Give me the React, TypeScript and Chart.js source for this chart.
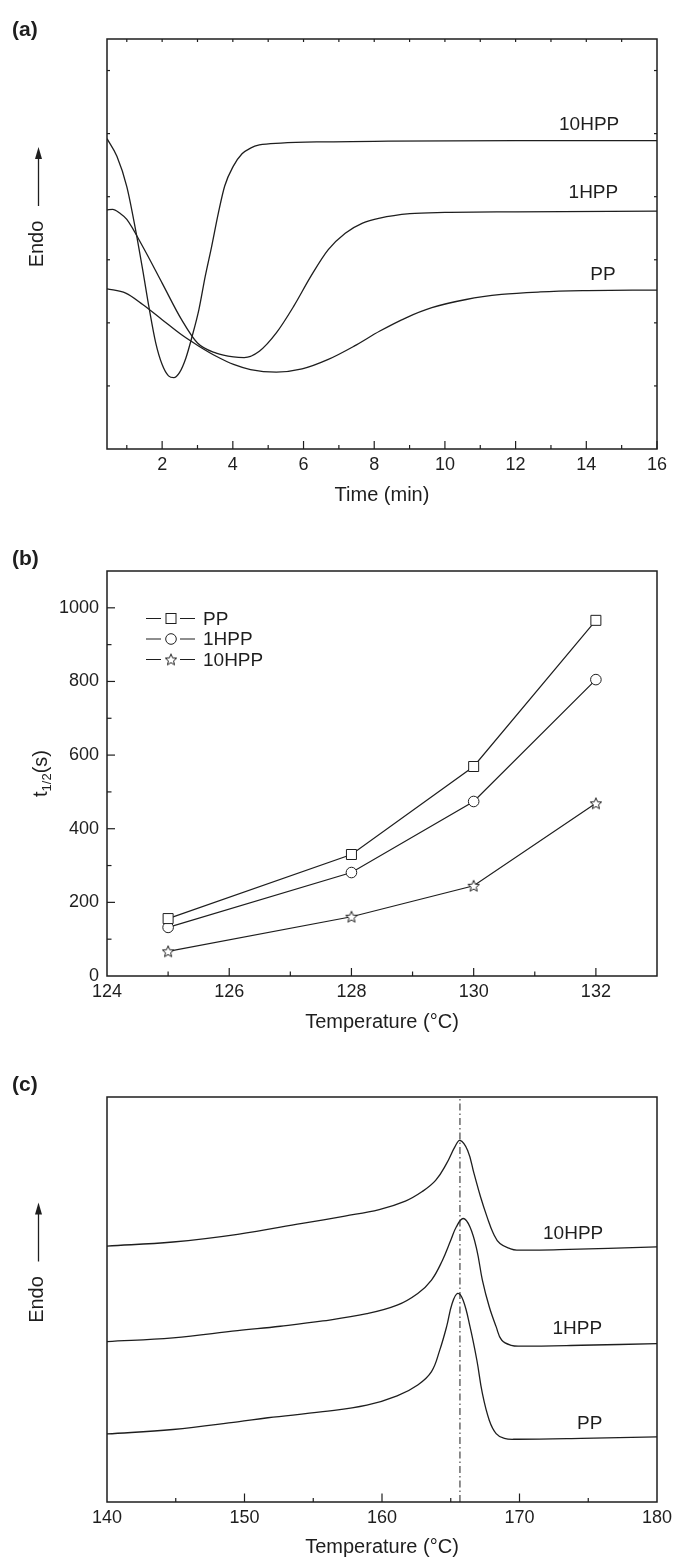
import React, { useEffect, useRef } from 'react';
import { Chart, registerables } from 'chart.js';

Chart.register(...registerables);

const FONT = '"Liberation Sans", Arial, Helvetica, sans-serif';
const INK = '#1e1e1e';
const PAGE_W = 675;
const PLOT_LEFT = 107;
const PLOT_RIGHT = 657;

// ---------------- Panel (a) ----------------
const aXMin = 0.44;
const aXMax = 16;
const aYMin = 0;
const aYMax = 6.5;
const aXTickValues = [2, 4, 6, 8, 10, 12, 14, 16];
const aXMinorValues = [1, 3, 5, 7, 9, 11, 13, 15];
const aTopTickValues = [1, 2, 3, 4, 5, 6, 7, 8, 9, 10, 11, 12, 13, 14, 15];
const aSideTickValues = [1, 2, 3, 4, 5, 6];

const a10HPPTime = [0.44, 0.72, 1.0, 1.23, 1.45, 1.63, 1.82, 2.0, 2.18, 2.33, 2.49, 2.67, 2.85, 3.04, 3.22, 3.4, 3.59, 3.77, 4.01, 4.26, 4.5, 4.75, 5.36, 6.58, 8.4, 12, 16];
const a10HPPHeat = [4.92, 4.64, 4.16, 3.53, 2.84, 2.24, 1.68, 1.34, 1.16, 1.13, 1.21, 1.44, 1.79, 2.21, 2.74, 3.21, 3.74, 4.17, 4.48, 4.68, 4.77, 4.82, 4.85, 4.87, 4.88, 4.89, 4.89];

const a1HPPTime = [0.44, 0.6, 0.8, 1.0, 1.45, 2.0, 2.55, 3.0, 3.53, 4.02, 4.32, 4.75, 5.23, 5.72, 6.21, 6.7, 7.18, 7.67, 8.16, 9.01, 10.0, 12.0, 16];
const a1HPPHeat = [3.79, 3.8, 3.74, 3.64, 3.21, 2.63, 2.05, 1.68, 1.52, 1.46, 1.45, 1.55, 1.84, 2.26, 2.74, 3.16, 3.42, 3.58, 3.66, 3.73, 3.75, 3.76, 3.77];

const aPPTime = [0.44, 0.97, 1.45, 2.0, 2.55, 3.04, 3.53, 4.02, 4.5, 5.23, 5.96, 6.7, 7.43, 8.16, 8.9, 9.63, 10.6, 11.6, 12.7, 13.9, 16];
const aPPHeat = [2.54, 2.47, 2.29, 2.05, 1.81, 1.63, 1.47, 1.34, 1.26, 1.22, 1.27, 1.42, 1.63, 1.87, 2.08, 2.24, 2.37, 2.45, 2.49, 2.51, 2.52];

const aSeriesNames = ['10HPP', '1HPP', 'PP'];
const aNameX = [14.08, 14.2, 14.47];
const aNameY = [5.14, 4.06, 2.76];

// ---------------- Panel (b) ----------------
const bXMin = 124;
const bXMax = 133;
const bYMin = 0;
const bYMax = 1100;
const bXTickValues = [124, 126, 128, 130, 132];
const bXMajorMarks = [126, 128, 130, 132];
const bXMinorMarks = [125, 127, 129, 131];
const bYTickValues = [0, 200, 400, 600, 800, 1000];
const bYMajorMarks = [200, 400, 600, 800, 1000];
const bYMinorMarks = [100, 300, 500, 700, 900];

const bTemperature = [125, 128, 130, 132];
const bPP = [156, 330, 569, 966];
const b1HPP = [132, 281, 474, 805];
const b10HPP = [67, 161, 245, 469];
const bSeriesNames = ['PP', '1HPP', '10HPP'];

// ---------------- Panel (c) ----------------
const cXMin = 140;
const cXMax = 180;
const cYMin = 0;
const cYMax = 100;
const cXTickValues = [140, 150, 160, 170, 180];
const cXMajorMarks = [150, 160, 170];
const cXMinorMarks = [145, 155, 165, 175];

const c10HPPTemp = [140, 144.8, 149.5, 154.2, 157.3, 159.8, 161.7, 162.9, 163.9, 164.7, 165.3, 165.67, 166.23, 166.7, 167.17, 167.64, 168.1, 168.58, 169.36, 169.8, 172.9, 180];
const c10HPPHeat = [63.2, 64.2, 66.1, 68.8, 70.6, 72.2, 74.3, 76.6, 79.4, 83.6, 87.7, 89.3, 86.8, 81.0, 75.3, 70.4, 66.3, 63.8, 62.5, 62.2, 62.3, 63.0];

const c1HPPTemp = [140, 144.8, 149.5, 152.6, 155.7, 158.9, 161.1, 162.6, 163.6, 164.4, 165.0, 165.4, 165.9, 166.4, 166.9, 167.3, 167.8, 168.3, 168.7, 169.4, 170.1, 174.5, 180];
const c1HPPHeat = [39.6, 40.5, 42.3, 43.4, 44.7, 46.5, 48.6, 51.5, 54.8, 59.7, 64.6, 67.9, 70.0, 67.9, 62.2, 54.8, 48.2, 43.3, 40.0, 38.7, 38.5, 38.7, 39.1];

const cPPTemp = [140, 144.8, 149.5, 151.7, 155.7, 158.9, 161.1, 162.6, 163.6, 164.2, 164.7, 165.1, 165.5, 165.9, 166.4, 166.9, 167.3, 167.8, 168.3, 168.9, 169.8, 174.5, 180];
const cPPHeat = [16.8, 17.9, 19.8, 20.8, 22.3, 23.9, 26.2, 28.9, 32.2, 37.5, 43.3, 49.0, 51.5, 49.8, 43.3, 35.0, 26.8, 20.2, 16.9, 15.7, 15.5, 15.7, 16.1];

const cPeakTemp = 165.67;
const cSeriesNames = ['10HPP', '1HPP', 'PP'];
const cNameX = [173.9, 174.2, 175.1];
const cNameY = [66.3, 42.8, 19.4];

// ---------------- helpers ----------------
const pts = (xs: number[], ys: number[]) => xs.map((x, i) => ({ x, y: ys[i] }));

function makeStar(size: number): HTMLCanvasElement {
  const c = document.createElement('canvas');
  c.width = size;
  c.height = size;
  const g = c.getContext('2d')!;
  const cx = size / 2;
  const cy = size / 2 + 0.5;
  const R = size / 2 - 1;
  const r = R * 0.45;
  g.beginPath();
  for (let i = 0; i < 10; i++) {
    const ang = -Math.PI / 2 + (i * Math.PI) / 5;
    const rad = i % 2 === 0 ? R : r;
    const x = cx + rad * Math.cos(ang);
    const y = cy + rad * Math.sin(ang);
    if (i === 0) g.moveTo(x, y);
    else g.lineTo(x, y);
  }
  g.closePath();
  g.fillStyle = '#fff';
  g.fill();
  g.strokeStyle = INK;
  g.lineWidth = 1;
  g.stroke();
  return c;
}

type Side = 'bottom' | 'top' | 'left' | 'right';
interface TickSet { side: Side; values: number[]; len: number; }
interface DecorCfg {
  panel: string;
  panelY: number;
  ticks: TickSet[];
  names?: { text: string; x: number; y: number }[];
  arrow?: boolean;
  legend?: { text: string; style: 'rect' | 'circle' | 'star' }[];
  subTitle?: boolean;
}

function decorPlugin(cfg: DecorCfg, star: HTMLCanvasElement) {
  return {
    id: 'decor',
    afterDraw(chart: any) {
      const { ctx, chartArea } = chart;
      const { left, right, top, bottom } = chartArea;
      const xs = chart.scales.x;
      const ys = chart.scales.y;
      ctx.save();
      ctx.strokeStyle = INK;
      ctx.fillStyle = INK;
      // frame
      ctx.lineWidth = 1.5;
      ctx.strokeRect(left, top, right - left, bottom - top);
      // inward ticks
      ctx.lineWidth = 1.2;
      cfg.ticks.forEach((t) => {
        t.values.forEach((v) => {
          ctx.beginPath();
          if (t.side === 'bottom' || t.side === 'top') {
            const px = xs.getPixelForValue(v);
            const y0 = t.side === 'bottom' ? bottom : top;
            const y1 = t.side === 'bottom' ? bottom - t.len : top + t.len;
            ctx.moveTo(px, y0);
            ctx.lineTo(px, y1);
          } else {
            const py = ys.getPixelForValue(v);
            const x0 = t.side === 'left' ? left : right;
            const x1 = t.side === 'left' ? left + t.len : right - t.len;
            ctx.moveTo(x0, py);
            ctx.lineTo(x1, py);
          }
          ctx.stroke();
        });
      });
      // panel label
      ctx.font = `bold 21px ${FONT}`;
      ctx.textAlign = 'left';
      ctx.textBaseline = 'middle';
      ctx.fillText(cfg.panel, 12, cfg.panelY);
      // series names
      if (cfg.names) {
        ctx.font = `19px ${FONT}`;
        ctx.textAlign = 'center';
        cfg.names.forEach((n) => {
          ctx.fillText(n.text, xs.getPixelForValue(n.x), ys.getPixelForValue(n.y));
        });
      }
      // Endo arrow
      if (cfg.arrow) {
        const cx = 38.5;
        const mid = (top + bottom) / 2;
        ctx.lineWidth = 1.3;
        ctx.beginPath();
        ctx.moveTo(cx, mid - 38);
        ctx.lineTo(cx, mid - 88);
        ctx.stroke();
        ctx.beginPath();
        ctx.moveTo(cx, mid - 97);
        ctx.lineTo(cx - 3.5, mid - 85);
        ctx.lineTo(cx + 3.5, mid - 85);
        ctx.closePath();
        ctx.fill();
      }
      // legend
      if (cfg.legend) {
        ctx.font = `19px ${FONT}`;
        ctx.textAlign = 'left';
        ctx.textBaseline = 'middle';
        cfg.legend.forEach((item, i) => {
          const y = top + 47.5 + i * 20.5;
          const x0 = left + 39;
          const mx = x0 + 25;
          ctx.lineWidth = 1.2;
          ctx.beginPath();
          ctx.moveTo(x0, y);
          ctx.lineTo(x0 + 15, y);
          ctx.moveTo(x0 + 34, y);
          ctx.lineTo(x0 + 49, y);
          ctx.stroke();
          ctx.lineWidth = 1;
          if (item.style === 'rect') {
            ctx.strokeRect(mx - 5, y - 5, 10, 10);
          } else if (item.style === 'circle') {
            ctx.beginPath();
            ctx.arc(mx, y, 5.3, 0, Math.PI * 2);
            ctx.stroke();
          } else {
            ctx.drawImage(star, mx - star.width / 2, y - star.height / 2);
          }
          ctx.fillText(item.text, x0 + 57, y + 1);
        });
      }
      // y title with subscript
      if (cfg.subTitle) {
        const mid = (top + bottom) / 2;
        ctx.translate(41, mid);
        ctx.rotate(-Math.PI / 2);
        ctx.textAlign = 'left';
        ctx.textBaseline = 'alphabetic';
        const big = `20px ${FONT}`;
        const small = `13px ${FONT}`;
        ctx.font = big;
        const w1 = ctx.measureText('t').width;
        const w3 = ctx.measureText('(s)').width;
        ctx.font = small;
        const w2 = ctx.measureText('1/2').width;
        let x = -(w1 + w2 + w3) / 2;
        ctx.font = big;
        ctx.fillText('t', x, 6);
        x += w1;
        ctx.font = small;
        ctx.fillText('1/2', x, 9.5);
        x += w2;
        ctx.font = big;
        ctx.fillText('(s)', x, 6);
      }
      ctx.restore();
    },
  };
}

function axisX(min: number, max: number, tickValues: number[], boxH: number, title: string, titlePad: number) {
  return {
    type: 'linear',
    min,
    max,
    afterBuildTicks: (s: any) => { s.ticks = tickValues.map((v) => ({ value: v })); },
    afterFit: (s: any) => { s.height = boxH; s.paddingLeft = 0; s.paddingRight = 0; },
    grid: { display: false, drawTicks: false },
    border: { display: false },
    ticks: { padding: 7, color: INK, maxRotation: 0, autoSkip: false, font: { family: FONT, size: 18, lineHeight: 1 }, callback: (v: any) => String(v) },
    title: { display: true, text: title, color: INK, font: { family: FONT, size: 20, lineHeight: 1 }, padding: { top: 0, bottom: titlePad } },
  };
}

function axisY(min: number, max: number, tickValues: number[], showLabels: boolean, title: string) {
  return {
    type: 'linear',
    min,
    max,
    afterBuildTicks: (s: any) => { s.ticks = tickValues.map((v) => ({ value: v })); },
    afterFit: (s: any) => { s.width = PLOT_LEFT; s.paddingTop = 0; s.paddingBottom = 0; },
    grid: { display: false, drawTicks: false },
    border: { display: false },
    ticks: { display: showLabels, padding: 8, color: INK, font: { family: FONT, size: 18, lineHeight: 1 }, callback: (v: any) => String(v) },
    title: { display: title !== '', text: title, color: INK, font: { family: FONT, size: 20, lineHeight: 1 }, padding: { top: 27, bottom: 0 } },
  };
}

const curve = (label: string, data: any[], mode: string) => ({
  label,
  data,
  borderColor: INK,
  borderWidth: 1.3,
  pointRadius: 0,
  fill: false,
  tension: 0.4,
  cubicInterpolationMode: mode,
});

export default function App() {
  const refA = useRef<HTMLCanvasElement>(null);
  const refB = useRef<HTMLCanvasElement>(null);
  const refC = useRef<HTMLCanvasElement>(null);

  useEffect(() => {
    const star = makeStar(14);
    const common = {
      animation: false,
      responsive: false,
      devicePixelRatio: 1,
      events: [],
    };

    const chartA = new Chart(refA.current!, {
      type: 'line',
      data: {
        datasets: [
          curve(aSeriesNames[0], pts(a10HPPTime, a10HPPHeat), 'monotone'),
          curve(aSeriesNames[1], pts(a1HPPTime, a1HPPHeat), 'monotone'),
          curve(aSeriesNames[2], pts(aPPTime, aPPHeat), 'monotone'),
        ],
      },
      options: {
        ...common,
        layout: { padding: { left: 0, top: 39, right: PAGE_W - PLOT_RIGHT, bottom: 0 } },
        plugins: { legend: { display: false }, tooltip: { enabled: false } },
        scales: {
          x: axisX(aXMin, aXMax, aXTickValues, 520 - 449, 'Time (min)', 15),
          y: axisY(aYMin, aYMax, aSideTickValues, false, 'Endo'),
        },
      } as any,
      plugins: [decorPlugin({
        panel: '(a)',
        panelY: 30,
        ticks: [
          { side: 'bottom', values: aXTickValues, len: 8 },
          { side: 'bottom', values: aXMinorValues, len: 4 },
          { side: 'top', values: aTopTickValues, len: 3 },
          { side: 'left', values: aSideTickValues, len: 3 },
          { side: 'right', values: aSideTickValues, len: 3 },
        ],
        names: aSeriesNames.map((t, i) => ({ text: t, x: aNameX[i], y: aNameY[i] })),
        arrow: true,
      }, star)],
    } as any);

    const chartB = new Chart(refB.current!, {
      type: 'line',
      data: {
        datasets: [
          { label: bSeriesNames[0], data: pts(bTemperature, bPP), borderColor: INK, borderWidth: 1.2, pointStyle: 'rect', pointRadius: 7.07, pointBorderWidth: 1, pointBorderColor: INK, pointBackgroundColor: '#fff', tension: 0 },
          { label: bSeriesNames[1], data: pts(bTemperature, b1HPP), borderColor: INK, borderWidth: 1.2, pointStyle: 'circle', pointRadius: 5.3, pointBorderWidth: 1, pointBorderColor: INK, pointBackgroundColor: '#fff', tension: 0 },
          { label: bSeriesNames[2], data: pts(bTemperature, b10HPP), borderColor: INK, borderWidth: 1.2, pointStyle: star, pointRadius: 7, tension: 0 },
        ],
      },
      options: {
        ...common,
        layout: { padding: { left: 0, top: 51, right: PAGE_W - PLOT_RIGHT, bottom: 0 } },
        plugins: { legend: { display: false }, tooltip: { enabled: false } },
        scales: {
          x: axisX(bXMin, bXMax, bXTickValues, 520 - 456, 'Temperature (°C)', 8),
          y: axisY(bYMin, bYMax, bYTickValues, true, ''),
        },
      } as any,
      plugins: [decorPlugin({
        panel: '(b)',
        panelY: 39,
        ticks: [
          { side: 'bottom', values: bXMajorMarks, len: 8 },
          { side: 'bottom', values: bXMinorMarks, len: 4.5 },
          { side: 'left', values: bYMajorMarks, len: 8 },
          { side: 'left', values: bYMinorMarks, len: 4.5 },
        ],
        legend: [
          { text: bSeriesNames[0], style: 'rect' },
          { text: bSeriesNames[1], style: 'circle' },
          { text: bSeriesNames[2], style: 'star' },
        ],
        subTitle: true,
      }, star)],
    } as any);

    const chartC = new Chart(refC.current!, {
      type: 'line',
      data: {
        datasets: [
          curve(cSeriesNames[0], pts(c10HPPTemp, c10HPPHeat), 'default'),
          curve(cSeriesNames[1], pts(c1HPPTemp, c1HPPHeat), 'default'),
          curve(cSeriesNames[2], pts(cPPTemp, cPPHeat), 'default'),
          {
            label: 'peak',
            data: [{ x: cPeakTemp, y: cYMin }, { x: cPeakTemp, y: cYMax }],
            borderColor: INK,
            borderWidth: 1,
            borderDash: [7, 3, 1.5, 3],
            pointRadius: 0,
            tension: 0,
          },
        ],
      },
      options: {
        ...common,
        layout: { padding: { left: 0, top: 57, right: PAGE_W - PLOT_RIGHT, bottom: 0 } },
        plugins: { legend: { display: false }, tooltip: { enabled: false } },
        scales: {
          x: axisX(cXMin, cXMax, cXTickValues, 517 - 462, 'Temperature (°C)', 0),
          y: axisY(cYMin, cYMax, [], false, 'Endo'),
        },
      } as any,
      plugins: [decorPlugin({
        panel: '(c)',
        panelY: 45,
        ticks: [
          { side: 'bottom', values: cXMajorMarks, len: 8.5 },
          { side: 'bottom', values: cXMinorMarks, len: 4 },
        ],
        names: cSeriesNames.map((t, i) => ({ text: t, x: cNameX[i], y: cNameY[i] })),
        arrow: true,
      }, star)],
    } as any);

    return () => {
      chartA.destroy();
      chartB.destroy();
      chartC.destroy();
    };
  }, []);

  const cv = (top: number, h: number): React.CSSProperties => ({
    position: 'absolute',
    left: 0,
    top,
    width: PAGE_W,
    height: h,
    display: 'block',
  });

  return (
    <div style={{ position: 'absolute', left: 0, top: 0, width: PAGE_W, height: 1557, overflow: 'hidden', background: '#fff' }}>
      <canvas ref={refA} width={PAGE_W} height={520} style={cv(0, 520)} />
      <canvas ref={refB} width={PAGE_W} height={520} style={cv(520, 520)} />
      <canvas ref={refC} width={PAGE_W} height={517} style={cv(1040, 517)} />
    </div>
  );
}
